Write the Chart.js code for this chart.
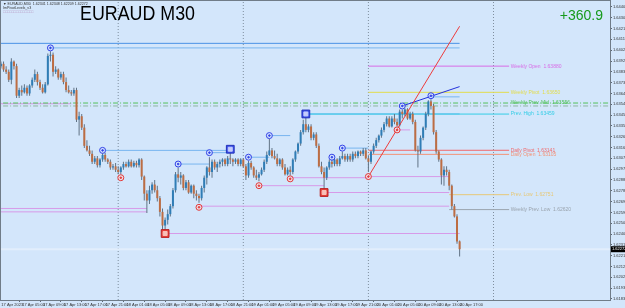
<!DOCTYPE html>
<html>
<head>
<meta charset="utf-8">
<script src="https://cdn.jsdelivr.net/npm/chart.js@4.4.0/dist/chart.umd.min.js"></script>
<style>
  html, body { margin: 0; padding: 0; background: #d3e6fb; }
  #wrap { width: 625px; height: 308px; position: relative; }
</style>
</head>
<body>
<div id="wrap"><canvas id="chart"></canvas></div>
<script>
// EURAUD M30, bar numbers counted in half hours from 17 Apr 00:00
const firstBar = 3;

const opens = [
  1.6388,1.6390,1.6385,1.6383,1.6376,1.6392,1.6388,1.6362,1.6367,1.6365,
  1.6369,1.6364,1.6371,1.6376,1.6381,1.6374,1.6369,1.6365,1.6372,1.6397,
  1.6398,1.6383,1.6385,1.6378,1.6381,1.6374,1.6367,1.6365,1.6364,1.6367,
  1.6341,1.6344,1.6334,1.6318,1.6314,1.6311,1.6304,1.6307,1.6301,1.6306,
  1.6310,1.6306,1.6304,1.6299,1.6300,1.6297,1.6295,1.6299,1.6302,1.6300,
  1.6304,1.6300,1.6303,1.6301,1.6306,1.6291,1.6276,1.6270,1.6279,1.6284,
  1.6279,1.6272,1.6260,1.6248,1.6253,1.6258,1.6265,1.6279,1.6293,1.6290,
  1.6292,1.6281,1.6286,1.6277,1.6283,1.6276,1.6274,1.6272,1.6281,1.6290,
  1.6299,1.6295,1.6304,1.6299,1.6302,1.6304,1.6306,1.6302,1.6307,1.6306,
  1.6304,1.6306,1.6302,1.6306,1.6300,1.6292,1.6303,1.6299,1.6292,1.6290,
  1.6293,1.6297,1.6304,1.6310,1.6314,1.6309,1.6307,1.6302,1.6306,1.6299,
  1.6293,1.6297,1.6295,1.6306,1.6313,1.6320,1.6330,1.6337,1.6332,1.6335,
  1.6325,1.6328,1.6318,1.6300,1.6295,1.6290,1.6299,1.6304,1.6302,1.6306,
  1.6302,1.6307,1.6309,1.6306,1.6309,1.6306,1.6311,1.6309,1.6313,1.6311,
  1.6314,1.6307,1.6304,1.6313,1.6318,1.6323,1.6327,1.6332,1.6337,1.6342,
  1.6335,1.6342,1.6339,1.6336,1.6348,1.6346,1.6350,1.6342,1.6346,1.6339,
  1.6314,1.6313,1.6325,1.6334,1.6346,1.6357,1.6353,1.6330,1.6313,1.6306,
  1.6292,1.6297,1.6295,1.6283,1.6265,1.6256,1.62341
];
const highs = [
  1.6392,1.6392,1.6388,1.6385,1.6395,1.6393,1.6390,1.6369,1.6371,1.6372,
  1.6371,1.6372,1.6378,1.6385,1.6383,1.6376,1.6372,1.6374,1.6399,1.6401,
  1.6400,1.6388,1.6386,1.6383,1.6383,1.6378,1.6371,1.6367,1.6369,1.6369,
  1.6348,1.6346,1.6337,1.6323,1.6318,1.6314,1.6309,1.6309,1.6307,1.6312,
  1.6312,1.6307,1.6306,1.6302,1.6303,1.6300,1.6300,1.6304,1.6304,1.6306,
  1.6306,1.6305,1.6305,1.6307,1.6307,1.6292,1.6279,1.6283,1.6286,1.6288,
  1.6283,1.6274,1.6263,1.6255,1.6262,1.6267,1.6281,1.6295,1.6299,1.6295,
  1.6293,1.6288,1.6288,1.6284,1.6284,1.6279,1.6276,1.6283,1.6292,1.6300,
  1.6308,1.6306,1.6306,1.6304,1.6306,1.6307,1.6307,1.6309,1.6312,1.6307,
  1.6307,1.6307,1.6307,1.6307,1.6302,1.6305,1.6305,1.6300,1.6297,1.6295,
  1.6299,1.6306,1.6313,1.6324,1.6316,1.6314,1.6311,1.6307,1.6307,1.6302,
  1.6299,1.6300,1.6307,1.6314,1.6321,1.6332,1.6341,1.6343,1.6337,1.6337,
  1.6330,1.6330,1.6320,1.6304,1.6299,1.6300,1.6306,1.6306,1.6307,1.6307,
  1.6309,1.6313,1.6311,1.6311,1.6311,1.6313,1.6313,1.6314,1.6314,1.6316,
  1.6316,1.6309,1.6314,1.6320,1.6325,1.6328,1.6334,1.6339,1.6344,1.6344,
  1.6344,1.6346,1.6342,1.6350,1.6350,1.6351,1.6351,1.6348,1.6348,1.6341,
  1.6318,1.6327,1.6335,1.6348,1.6358,1.6359,1.6355,1.6332,1.6314,1.6307,
  1.6300,1.6300,1.6297,1.6284,1.6267,1.6258,1.62348
];
const lows = [
  1.6386,1.6383,1.6381,1.6374,1.6372,1.6385,1.6360,1.6360,1.6362,1.6364,
  1.6362,1.6362,1.6369,1.6374,1.6371,1.6367,1.6364,1.6364,1.6371,1.6392,
  1.6379,1.6381,1.6376,1.6376,1.6372,1.6365,1.6364,1.6362,1.6362,1.6339,
  1.6327,1.6332,1.6316,1.6313,1.6309,1.6302,1.6302,1.6299,1.6299,1.6304,
  1.6304,1.6302,1.6297,1.6297,1.6295,1.6293,1.6293,1.6297,1.6299,1.6299,
  1.6299,1.6299,1.6299,1.6299,1.6288,1.6270,1.6259,1.6267,1.6276,1.6277,
  1.6269,1.6256,1.6244,1.6244,1.6249,1.6256,1.6263,1.6277,1.6286,1.6284,
  1.6279,1.6279,1.6276,1.6276,1.6272,1.6270,1.6268,1.6270,1.6277,1.6284,
  1.6292,1.6290,1.6297,1.6295,1.6299,1.6300,1.6300,1.6300,1.6302,1.6300,
  1.6302,1.6300,1.6300,1.6299,1.6288,1.6290,1.6297,1.6290,1.6288,1.6287,
  1.6292,1.6295,1.6302,1.6309,1.6307,1.6306,1.6300,1.6300,1.6297,1.6292,
  1.6292,1.6292,1.6293,1.6304,1.6311,1.6318,1.6328,1.6330,1.6330,1.6323,
  1.6323,1.6316,1.6299,1.6293,1.6279,1.6288,1.6297,1.6299,1.6300,1.6300,
  1.6300,1.6306,1.6304,1.6304,1.6304,1.6304,1.6307,1.6307,1.6309,1.6309,
  1.6306,1.6295,1.6302,1.6311,1.6316,1.6321,1.6325,1.6330,1.6335,1.6334,
  1.6334,1.6337,1.6335,1.6335,1.6342,1.6344,1.6341,1.6341,1.6337,1.6313,
  1.6299,1.6311,1.6323,1.6332,1.6344,1.6350,1.6328,1.6311,1.6304,1.6284,
  1.6283,1.6292,1.6279,1.6262,1.6255,1.6232,1.62209
];
const closes = [
  1.6390,1.6385,1.6383,1.6376,1.6392,1.6388,1.6362,1.6367,1.6365,1.6369,
  1.6364,1.6371,1.6376,1.6381,1.6374,1.6369,1.6365,1.6372,1.6397,1.6398,
  1.6383,1.6385,1.6378,1.6381,1.6374,1.6367,1.6365,1.6364,1.6367,1.6341,
  1.6344,1.6334,1.6318,1.6314,1.6311,1.6304,1.6307,1.6301,1.6306,1.6310,
  1.6306,1.6304,1.6299,1.6300,1.6297,1.6295,1.6299,1.6302,1.6300,1.6304,
  1.6300,1.6303,1.6301,1.6306,1.6291,1.6276,1.6270,1.6279,1.6284,1.6279,
  1.6272,1.6260,1.6248,1.6253,1.6258,1.6265,1.6279,1.6293,1.6290,1.6292,
  1.6281,1.6286,1.6277,1.6283,1.6276,1.6274,1.6272,1.6281,1.6290,1.6299,
  1.6295,1.6304,1.6299,1.6302,1.6304,1.6306,1.6302,1.6307,1.6306,1.6304,
  1.6306,1.6302,1.6306,1.6300,1.6292,1.6303,1.6299,1.6292,1.6290,1.6293,
  1.6297,1.6304,1.6310,1.6314,1.6309,1.6307,1.6302,1.6306,1.6299,1.6293,
  1.6297,1.6295,1.6306,1.6313,1.6320,1.6330,1.6337,1.6332,1.6335,1.6325,
  1.6328,1.6318,1.6300,1.6295,1.6290,1.6299,1.6304,1.6302,1.6306,1.6302,
  1.6307,1.6309,1.6306,1.6309,1.6306,1.6311,1.6309,1.6313,1.6311,1.6314,
  1.6307,1.6304,1.6313,1.6318,1.6323,1.6327,1.6332,1.6337,1.6342,1.6335,
  1.6342,1.6339,1.6336,1.6348,1.6346,1.6350,1.6342,1.6346,1.6339,1.6314,
  1.6313,1.6325,1.6334,1.6346,1.6357,1.6353,1.6330,1.6313,1.6306,1.6292,
  1.6297,1.6295,1.6283,1.6265,1.6256,1.6234,1.62272
];

// time axis labels, one every 8 bars from bar 2 (17 Apr 01:00)
const timeLabels = [
  "17 Apr 2023","17 Apr 05:00","17 Apr 09:00","17 Apr 13:00","17 Apr 17:00","17 Apr 21:00",
  "18 Apr 01:00","18 Apr 05:00","18 Apr 09:00","18 Apr 13:00","18 Apr 17:00","18 Apr 21:00",
  "19 Apr 01:00","19 Apr 05:00","19 Apr 09:00","19 Apr 13:00","19 Apr 17:00","19 Apr 21:00",
  "20 Apr 01:00","20 Apr 05:00","20 Apr 09:00","20 Apr 13:00","20 Apr 17:00"
];
const priceTicks = [
  1.64400,1.64305,1.64210,1.64115,1.64020,1.63925,1.63830,1.63735,1.63640,1.63545,
  1.63450,1.63355,1.63260,1.63165,1.63070,1.62975,1.62880,1.62785,1.62690,1.62595,
  1.62500,1.62405,1.62310,1.62215,1.62120,1.62025,1.61930,1.61835
];
const dayStarts = [48, 96, 144, 192];

// pivot levels
const levelNames  = ["Weekly Open","Weekly Pivot","Weekly Prev. Mid","Prev. High","Daily Pivot","Daily Open","Prev. Low","Weekly Prev. Low"];
const levelPrices = [1.63880, 1.63650, 1.63556, 1.63459, 1.63141, 1.63105, 1.62751, 1.62620];
const levelFrom   = [144, 144, 0, 120, 144, 144, 175, 175];
const levelTo     = [198, 198, 237, 198, 198, 198, 198, 198];
const weeklyMidLow = 1.63530;

// swing highs / lows and their lines
const highMarkBars   = [22, 42, 71, 83, 98, 106, 130, 134, 157, 168];
const highMarkPrices = [1.6404, 1.6314, 1.6302, 1.6312, 1.6308, 1.6327, 1.6308, 1.6316, 1.6353, 1.6362];
const highBoxBars    = [91, 120];
const highBoxPrices  = [1.6315, 1.6346];
const lowMarkBars    = [49, 79, 102, 114, 144, 155];
const lowMarkPrices  = [1.6290, 1.6264, 1.6283, 1.6289, 1.6291, 1.6332];
const lowBoxBars     = [66, 127];
const lowBoxPrices   = [1.6241, 1.6277];

const highLineFrom  = [0, 22, 42, 83, 71, 98, 106, 120, 134, 168];
const highLineTo    = [179, 179, 91, 91, 83, 106, 114, 179, 144, 179];
const highLinePrice = [1.6408, 1.6404, 1.6314, 1.6312, 1.6302, 1.6308, 1.6327, 1.6346, 1.6316, 1.6361];
const lowLineFrom   = [0, 0, 0, 66, 79, 102, 114, 127, 144, 155];
const lowLineTo     = [30, 59, 59, 179, 175, 127, 144, 175, 175, 160];
const lowLinePrice  = [1.6355, 1.6263, 1.6260, 1.6241, 1.6265, 1.6283, 1.6290, 1.6277, 1.6291, 1.6332];

// trend lines [from bar, to bar], [from price, to price]
const redTrendBars = [144, 179];
const redTrendPrices = [1.6291, 1.6423];
const blueTrendBars = [157, 179];
const blueTrendPrices = [1.6353, 1.6370];

const profitText = "+360.9";

/* ---------------- SETUP ---------------- */

const xMin = 3.03, xMax = 236.7;
const yMin = 1.61826, yMax = 1.64452;
const lastClose = closes[closes.length - 1];

const BG = "#d3e6fb";
const BULL = "#2f7db6";
const BEAR = "#bd6d43";
const levelColors = ["#d86ce6", "#e2dc4c", "#52c25a", "#33cde6", "#f0696b", "#f29478", "#e6c878", "#9aa4ae"];

const datasets = [];

function seg(x0, x1, p0, p1, color, width, dash, order) {
    datasets.push({
        type: "line",
        data: [{ x: x0, y: p0 }, { x: x1, y: p1 }],
        borderColor: color,
        borderWidth: width,
        borderDash: dash,
        pointRadius: 0,
        fill: false,
        tension: 0,
        order: order
    });
}

function marks(bars, prices, style, radius, fill, border, order) {
    datasets.push({
        type: "line",
        showLine: false,
        data: bars.map((b, i) => ({ x: b, y: prices[i] })),
        pointStyle: style,
        pointRadius: radius,
        pointBackgroundColor: fill,
        pointBorderColor: border,
        pointBorderWidth: 1,
        order: order
    });
}

// day separators
dayStarts.forEach(d => seg(d, d, yMin, yMax, "#7f8e9e", 1, [1, 2], 30));

// current price line
seg(0, xMax, lastClose, lastClose, "#e2eefc", 2, [], 29);

// swing lines
highLineFrom.forEach((f, i) =>
    seg(f, highLineTo[i], highLinePrice[i], highLinePrice[i], i === 0 ? "#4b93e6" : "#78b5ef", 1, [], 25));
lowLineFrom.forEach((f, i) =>
    seg(f, lowLineTo[i], lowLinePrice[i], lowLinePrice[i], "#d79ae8", 1, [], 25));

// pivot levels
levelPrices.forEach((p, i) =>
    seg(levelFrom[i], levelTo[i], p, p, levelColors[i], 1, i === 2 ? [5, 2, 1, 2] : [], 20));
seg(0, xMax, weeklyMidLow, weeklyMidLow, "#8fb8a0", 1, [5, 2, 1, 2], 20);

// candles
datasets.push({
    type: "bar",
    data: closes.map((c, i) => ({ x: firstBar + i, y: [lows[i], highs[i]] })),
    backgroundColor: "#617385",
    grouped: false,
    barPercentage: 0.45,
    categoryPercentage: 1,
    maxBarThickness: 1,
    order: 10
});
datasets.push({
    type: "bar",
    data: closes.map((c, i) => ({ x: firstBar + i, y: [opens[i], c] })),
    backgroundColor: ctx => closes[ctx.dataIndex] >= opens[ctx.dataIndex] ? BULL : BEAR,
    grouped: false,
    barPercentage: 0.8,
    categoryPercentage: 1,
    maxBarThickness: 2,
    minBarLength: 1,
    order: 9
});

// trend lines
seg(redTrendBars[0], redTrendBars[1], redTrendPrices[0], redTrendPrices[1], "#ee3b3b", 1, [], 3);
seg(blueTrendBars[0], blueTrendBars[1], blueTrendPrices[0], blueTrendPrices[1], "#2432dc", 1, [], 3);

// swing markers
marks(highMarkBars, highMarkPrices, "circle", 3, "rgba(210,225,255,0.6)", "#3342e8", 2);
marks(highMarkBars, highMarkPrices, "circle", 0.8, "#3342e8", "#3342e8", 1);
marks(lowMarkBars, lowMarkPrices, "circle", 3, "rgba(255,220,220,0.6)", "#e23a3a", 2);
marks(lowMarkBars, lowMarkPrices, "circle", 0.8, "#e23a3a", "#e23a3a", 1);
marks(highBoxBars, highBoxPrices, "rect", 5.5, "#3d52ea", "#2030b8", 2);
marks(highBoxBars, highBoxPrices, "rect", 2.8, "#c5cdfc", "#c5cdfc", 1);
marks(lowBoxBars, lowBoxPrices, "rect", 5.5, "#e8403a", "#b82020", 2);
marks(lowBoxBars, lowBoxPrices, "rect", 2.8, "#f8c0b8", "#f8c0b8", 1);

/* ---------------- TEXT AND FRAME ---------------- */

const mtOverlay = {
    id: "mtOverlay",

    beforeDraw(chart) {
        const { ctx, width, height } = chart;
        ctx.save();
        ctx.fillStyle = BG;
        ctx.fillRect(0, 0, width, height);
        ctx.restore();
    },

    afterDraw(chart) {
        const { ctx, chartArea: a, scales: { x, y } } = chart;
        ctx.save();

        // frame
        ctx.strokeStyle = "#707c88";
        ctx.lineWidth = 1;
        ctx.strokeRect(a.left - 0.5, a.top - 0.5, a.right - a.left + 1, a.bottom - a.top + 1);

        // level labels
        ctx.font = '5px "Liberation Sans"';
        ctx.textBaseline = "middle";
        ctx.textAlign = "left";
        levelNames.forEach((name, i) => {
            ctx.fillStyle = levelColors[i];
            ctx.fillText(name + "  " + levelPrices[i].toFixed(5),
                x.getPixelForValue(198.6), y.getPixelForValue(levelPrices[i]));
        });

        // header lines
        ctx.textBaseline = "alphabetic";
        ctx.fillStyle = "#333";
        ctx.font = '3.6px "Liberation Sans"';
        ctx.fillText("\u25BC EURAUD,M30  " + opens.at(-1).toFixed(5) + " " + highs.at(-1).toFixed(5) + " " +
            lows.at(-1).toFixed(5) + " " + lastClose.toFixed(5), 3, 5);
        ctx.fillText("ImPivotLevels_v3", 3, 9);
        ctx.fillStyle = "#b89ac4";
        ctx.fillText("\u25A1\u25A1\u25A1\u25A1\u25A1\u25A1\u25A1\u25A1\u25A1\u25A1\u25A1\u25A1\u25A1\u25A1", 3, 13);

        // symbol title
        ctx.fillStyle = "#000";
        ctx.font = '21px "Liberation Sans"';
        const title = "EURAUD M30";
        const w = ctx.measureText(title).width;
        ctx.save();
        ctx.translate(80, 20);
        ctx.scale(115 / w, 1);
        ctx.fillText(title, 0, 0);
        ctx.restore();

        // profit
        ctx.fillStyle = "#169a1a";
        ctx.font = '14px "Liberation Sans"';
        ctx.textAlign = "right";
        ctx.fillText(profitText, 603, 20);

        // current price box
        const py = y.getPixelForValue(lastClose);
        ctx.fillStyle = "#000";
        ctx.fillRect(a.right + 1, py - 3, 14, 6);
        ctx.fillStyle = "#fff";
        ctx.font = '4px "Liberation Sans"';
        ctx.textAlign = "left";
        ctx.textBaseline = "middle";
        ctx.fillText(lastClose.toFixed(5), a.right + 2, py);

        ctx.restore();
    }
};

/* ---------------- CHART ---------------- */

new Chart(document.getElementById("chart"), {
    type: "bar",
    data: { datasets },
    plugins: [mtOverlay],
    options: {
        responsive: true,
        maintainAspectRatio: false,
        animation: false,
        events: [],
        layout: { autoPadding: false, padding: { left: 1, top: 1, right: 0, bottom: 0 } },
        plugins: {
            legend: { display: false },
            tooltip: { enabled: false }
        },
        scales: {
            x: {
                type: "linear",
                min: xMin,
                max: xMax,
                offset: false,
                afterFit: s => {
                    s.height = 8;
                    s.paddingLeft = 0;
                    s.paddingRight = 0;
                },
                afterBuildTicks: s => {
                    s.ticks = timeLabels.map((t, i) => ({ value: 2 + i * 8 }));
                },
                ticks: {
                    autoSkip: false,
                    maxRotation: 0,
                    align: "start",
                    labelOffset: 3,
                    padding: 0,
                    color: "#333",
                    font: { size: 4, family: "Liberation Sans" },
                    callback: (v, i) => timeLabels[i]
                },
                grid: { drawOnChartArea: false, drawTicks: true, tickLength: 2, color: "#5b6672", offset: false },
                border: { display: true, color: "#707c88" }
            },
            y: {
                type: "linear",
                position: "right",
                min: yMin,
                max: yMax,
                afterFit: s => {
                    s.width = 15;
                    s.paddingTop = 0;
                    s.paddingBottom = 0;
                },
                afterBuildTicks: s => {
                    s.ticks = priceTicks.map(v => ({ value: v }));
                },
                ticks: {
                    autoSkip: false,
                    padding: 1,
                    color: "#333",
                    font: { size: 4, family: "Liberation Sans" },
                    callback: v => v.toFixed(5)
                },
                grid: { drawOnChartArea: false, drawTicks: true, tickLength: 2, color: "#5b6672" },
                border: { display: true, color: "#707c88" }
            }
        }
    }
});
</script>
</body>
</html>
